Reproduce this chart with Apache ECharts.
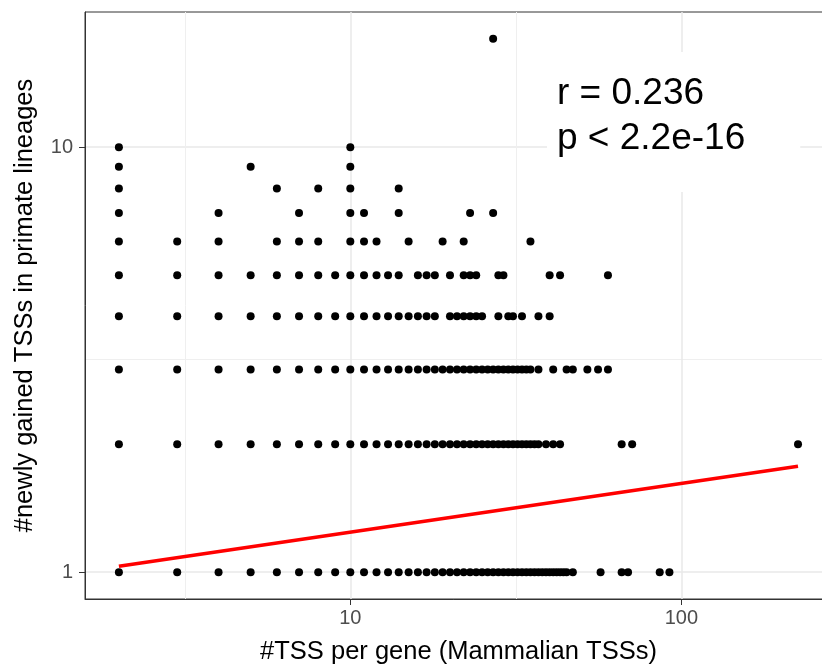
<!DOCTYPE html>
<html>
<head>
<meta charset="utf-8">
<script src="https://cdn.jsdelivr.net/npm/echarts@6/dist/echarts.min.js"></script>
<style>
html,body{margin:0;padding:0;background:#fff;}
#chart{width:822px;height:664px;}
</style>
</head>
<body>
<div id="chart"></div>
<script>
// Gained TSS counts (y) and the #TSS-per-gene values (x) observed at each count
const yLevels = [1, 2, 3, 4, 5, 6, 7, 8, 9, 10, 18];
const xAtY1 = [2,3,4,5,6,7,8,9,10,11,12,13,14,15,16,17,18,19,20,21,22,23,24,25,26,27,28,29,30,31,32,33,34,35,36,37,38,39,40,41,42,43,44,45,47,57,66,69,86,92];
const xAtY2 = [2,3,4,5,6,7,8,9,10,11,12,13,14,15,16,17,18,19,20,21,22,23,24,25,26,27,28,29,30,31,32,33,34,35,36,37,39,41,43,66,71,225];
const xAtY3 = [2,3,4,5,6,7,8,9,10,11,12,13,14,15,16,17,18,19,20,21,22,23,24,25,26,27,28,29,30,31,32,33,34,35,37,41,45,47,52,56,60];
const xAtY4 = [2,3,4,5,6,7,8,9,10,11,12,13,14,15,16,17,18,20,21,22,23,24,25,28,30,31,33,37,40];
const xAtY5 = [2,3,4,5,6,7,8,9,10,11,12,13,14,16,17,18,20,22,23,24,28,29,40,43,60];
const xAtY6 = [2,3,4,6,7,8,10,11,12,15,19,22,35];
const xAtY7 = [2,4,7,10,11,14,23,27];
const xAtY8 = [2,6,8,10,14];
const xAtY9 = [2,5,10];
const xAtY10 = [2,10];
const xAtY18 = [27];
const xRows = [xAtY1, xAtY2, xAtY3, xAtY4, xAtY5, xAtY6, xAtY7, xAtY8, xAtY9, xAtY10, xAtY18];

// Fitted regression line endpoints
const fitX = [2, 225];
const fitY = [1.033, 1.775];

// Axis ticks
const xMajorTicks = [10, 100];
const xMinorTicks = [3.1623, 31.623];
const yMajorTicks = [1, 10];
const yMinorTicks = [3.1623];

const annotation = 'r = 0.236\np < 2.2e-16';
const xTitle = '#TSS per gene (Mammalian TSSs)';
const yTitle = '#newly gained TSSs in primate lineages';

const points = [];
yLevels.forEach((y, i) => xRows[i].forEach(x => points.push([x, y])));
const fitData = fitX.map((x, i) => [x, fitY[i]]);

const FONT = '"Liberation Sans", Arial, Helvetica, sans-serif';
const X_MIN = 1.58, X_MAX = 285, Y_MIN = 0.865, Y_MAX = 20.8;

const chart = echarts.init(document.getElementById('chart'), null, {renderer: 'canvas'});
chart.setOption({
  animation: false,
  backgroundColor: '#fff',
  textStyle: {fontFamily: FONT},
  grid: {left: 85, top: 12, width: 747, height: 587, show: true, borderColor: '#333', borderWidth: 1,
         backgroundColor: 'transparent', containLabel: false, outerBoundsMode: 'none'},
  xAxis: [{
    type: 'log', logBase: 10, min: X_MIN, max: X_MAX,
    name: xTitle, nameLocation: 'middle', nameGap: 40,
    nameTextStyle: {color: '#000', fontSize: 25.5, fontFamily: FONT},
    axisLine: {show: true, lineStyle: {color: '#333', width: 1}},
    axisTick: {show: true, length: 6, customValues: xMajorTicks, lineStyle: {color: '#333', width: 1}},
    axisLabel: {customValues: xMajorTicks, color: '#4d4d4d', fontSize: 20, margin: 9, fontFamily: FONT},
    splitLine: {show: true, lineStyle: {color: '#e9e9e9', width: 1.5}}
  }, {
    type: 'log', logBase: 10, min: X_MIN, max: X_MAX, position: 'top',
    axisLine: {show: false},
    axisTick: {show: false, customValues: xMinorTicks},
    axisLabel: {show: false, customValues: xMinorTicks},
    splitLine: {show: true, lineStyle: {color: '#efefef', width: 1}}
  }],
  yAxis: [{
    type: 'log', logBase: 10, min: Y_MIN, max: Y_MAX,
    name: yTitle, nameLocation: 'middle', nameGap: 47,
    nameTextStyle: {color: '#000', fontSize: 25.5, fontFamily: FONT},
    axisLine: {show: true, lineStyle: {color: '#333', width: 1}},
    axisTick: {show: true, length: 6, customValues: yMajorTicks, lineStyle: {color: '#333', width: 1}},
    axisLabel: {customValues: yMajorTicks, color: '#4d4d4d', fontSize: 20, margin: 12, fontFamily: FONT},
    splitLine: {show: true, lineStyle: {color: '#e9e9e9', width: 1.5}}
  }, {
    type: 'log', logBase: 10, min: Y_MIN, max: Y_MAX, position: 'right',
    axisLine: {show: false},
    axisTick: {show: false, customValues: yMinorTicks},
    axisLabel: {show: false, customValues: yMinorTicks},
    splitLine: {show: true, lineStyle: {color: '#efefef', width: 1}}
  }],
  series: [{
    type: 'scatter', xAxisIndex: 0, yAxisIndex: 0,
    data: points, symbol: 'circle', symbolSize: 8,
    itemStyle: {color: '#000', opacity: 1},
    emphasis: {disabled: true}, z: 3
  }, {
    type: 'line', xAxisIndex: 0, yAxisIndex: 0,
    data: fitData, showSymbol: false, symbol: 'none',
    lineStyle: {color: '#ff0000', width: 3.5},
    emphasis: {disabled: true}, z: 4
  }],
  graphic: [{
    type: 'text', left: 547, top: 52, z: 10,
    style: {
      text: annotation, font: '37px ' + FONT, fill: '#000',
      lineHeight: 45, backgroundColor: '#fff', padding: [19, 55, 31, 10]
    }
  }]
});
</script>
</body>
</html>
